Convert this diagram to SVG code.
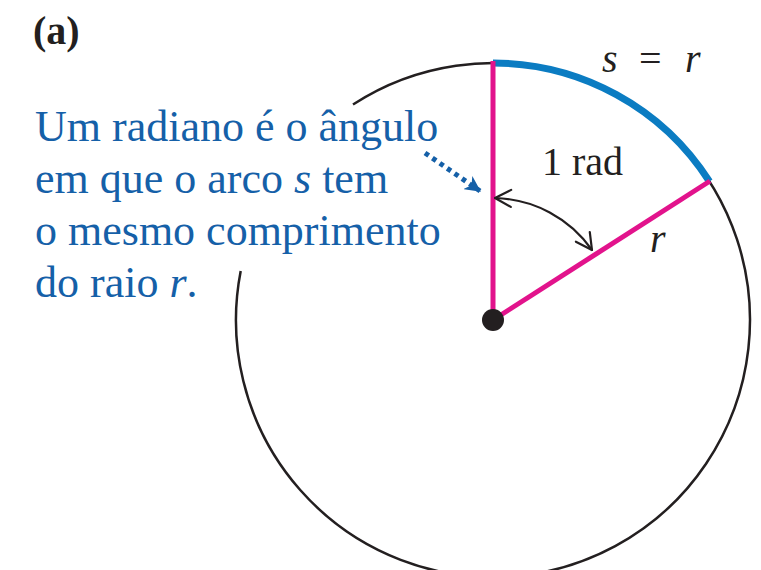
<svg xmlns="http://www.w3.org/2000/svg" width="761" height="570" viewBox="0 0 761 570">
  <defs>
    <style>
      .serif { font-family: "Liberation Serif", "Times New Roman", serif; }
      .label { font-size: 40px; fill: #231f20; }
      .note { font-size: 44px; fill: #1560a8; }
      .it { font-style: italic; }
      .circle { fill: none; stroke: #231f20; stroke-width: 2.5; }
      .radius { stroke: #e2138c; stroke-width: 5; fill: none; }
      .arc { fill: none; stroke: #0b7cc2; stroke-width: 7; }
    </style>
    <marker id="openhead" viewBox="0 0 20 20" refX="19" refY="10" markerWidth="20" markerHeight="20" markerUnits="userSpaceOnUse" orient="auto-start-reverse">
      <path d="M3,1.5 L19,10 L3,18.5" fill="none" stroke="#231f20" stroke-width="2.2" stroke-linecap="round"/>
    </marker>
    <marker id="bluehead" viewBox="0 0 14 14" refX="13" refY="7" markerWidth="16" markerHeight="16" markerUnits="userSpaceOnUse" orient="auto">
      <path d="M0,0 L14,7 L0,14 L4,7 Z" fill="#1560a8"/>
    </marker>
  </defs>

  <rect width="761" height="570" fill="#ffffff"/>

  <text id="panel-label" class="serif" x="33" y="44" font-size="40" font-weight="bold" fill="#231f20">(a)</text>

  <g id="circle">
    <path class="circle" d="M353,104.5 A257,257 0 1 1 240.7,271"/>
  </g>

  <g id="arc-s">
    <path class="arc" d="M493,63 A257,257 0 0 1 709.5,181.5"/>
  </g>

  <g id="radii">
    <line class="radius" x1="493" y1="320" x2="493" y2="61"/>
    <line class="radius" x1="493" y1="320" x2="710" y2="181"/>
  </g>

  <g id="center">
    <circle cx="493" cy="320" r="11" fill="#231f20"/>
  </g>

  <g id="connectors">
    <path d="M495,198 A122,122 0 0 1 592,250" fill="none" stroke="#231f20" stroke-width="2.2" marker-start="url(#openhead)" marker-end="url(#openhead)"/>
    <path d="M425,153 L480,191" fill="none" stroke="#1560a8" stroke-width="5" stroke-dasharray="4.5 4.5" marker-end="url(#bluehead)"/>
  </g>

  <g id="label-rad">
    <text class="serif label" x="542" y="175">1 rad</text>
  </g>

  <g id="label-s-eq-r">
    <text class="serif label" y="72"><tspan class="it" x="602">s</tspan><tspan x="639">=</tspan><tspan class="it" x="685">r</tspan></text>
  </g>

  <g id="label-r">
    <text class="serif label it" x="650" y="252">r</text>
  </g>

  <g id="note">
    <text class="serif note" x="35" y="141">Um radiano é o ângulo</text>
    <text class="serif note" x="35" y="193">em que o arco <tspan class="it">s</tspan> tem</text>
    <text class="serif note" x="35" y="245">o mesmo comprimento</text>
    <text class="serif note" x="35" y="297">do raio <tspan class="it">r</tspan>.</text>
  </g>
</svg>
